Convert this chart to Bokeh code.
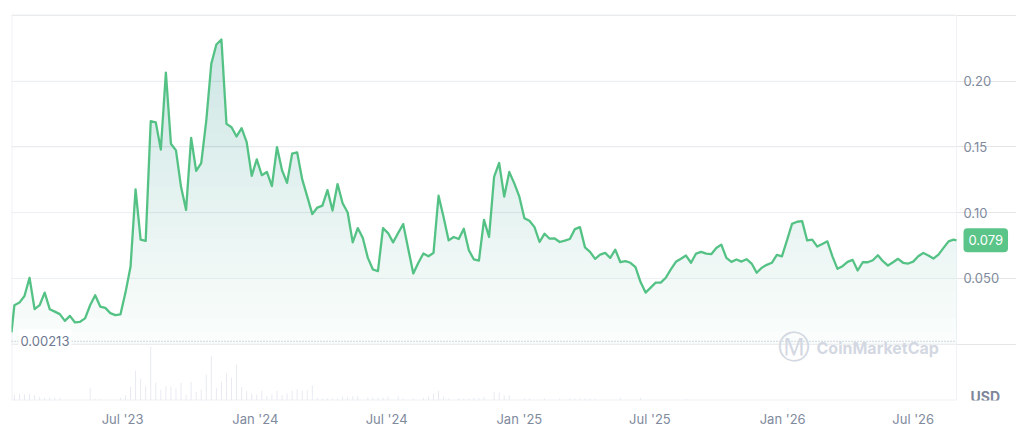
import numpy as np
import pandas as pd
from bokeh.plotting import figure
from bokeh.models import (Range1d, FixedTicker, DatetimeTickFormatter, Label, ColumnDataSource)
from bokeh.core.properties import value
from bokeh.embed import file_html
from bokeh.resources import INLINE

# ---------------- data ----------------
first_date = "2023-01-28"
first_price = 0.0090
weekly_start = "2023-02-01"
weekly_prices = [
    0.0296, 0.0316, 0.0366, 0.0505, 0.0266, 0.0296, 0.0392, 0.0266, 0.0247, 0.0228,
    0.0177, 0.0215, 0.0165, 0.0170, 0.0196, 0.0296, 0.0372, 0.0286, 0.0276, 0.0236,
    0.0221, 0.0226, 0.0392, 0.0588, 0.1177, 0.0795, 0.0785, 0.1696, 0.1688, 0.1480,
    0.2066, 0.1525, 0.1474,
    0.1197, 0.1021, 0.1570, 0.1318, 0.1378, 0.1701, 0.2134, 0.2280, 0.2318, 0.1676,
    0.1650, 0.1580, 0.1643, 0.1537, 0.1280, 0.1406, 0.1285, 0.1310, 0.1202, 0.1499,
    0.1323, 0.1227, 0.1449, 0.1459, 0.1253, 0.1122, 0.0989, 0.1039, 0.1054, 0.1172,
    0.1016, 0.1218,
    0.1072, 0.1001, 0.0774, 0.0883, 0.0807, 0.0656, 0.0568, 0.0555, 0.0883, 0.0845,
    0.0774, 0.0845, 0.0913, 0.0724, 0.0538, 0.0619, 0.0689, 0.0668, 0.0694, 0.1129,
    0.0966, 0.0789, 0.0815, 0.0800, 0.0878, 0.0714, 0.0644, 0.0636, 0.0946, 0.0815,
    0.1273, 0.1378,
    0.1122, 0.1310, 0.1223, 0.1122, 0.0958, 0.0938, 0.0890, 0.0777, 0.0840, 0.0802,
    0.0804, 0.0777, 0.0787, 0.0800, 0.0875, 0.0890, 0.0736, 0.0702, 0.0649, 0.0681,
    0.0694, 0.0656, 0.0719, 0.0623, 0.0631, 0.0619, 0.0585, 0.0472, 0.0392, 0.0430,
    0.0468,
    0.0468, 0.0505, 0.0568, 0.0626, 0.0649, 0.0674, 0.0619, 0.0689, 0.0702, 0.0689,
    0.0684, 0.0732, 0.0757, 0.0656, 0.0626, 0.0644, 0.0628, 0.0646, 0.0613, 0.0543,
    0.0581, 0.0603, 0.0619, 0.0679, 0.0668, 0.0789, 0.0915, 0.0931, 0.0936, 0.0789,
    0.0795, 0.0742,
    0.0762, 0.0782, 0.0668, 0.0573, 0.0593, 0.0626, 0.0641, 0.0560, 0.0623, 0.0623,
    0.0638, 0.0676, 0.0631, 0.0598, 0.0623, 0.0649, 0.0619, 0.0613, 0.0628, 0.0668,
    0.0694, 0.0674, 0.0651, 0.0681, 0.0732, 0.0782, 0.0795,
]
last_date = "2026-08-30"
last_price = 0.079

# weekly traded volume (relative units)
weekly_volume = (
    [6, 7, 6.3, 7, 5.3, 3.7, 3, 3, 3, 2.7]
    + [0, 0, 0, 0, 0, 12.7, 1.7, 1.3, 0, 0]
    + [0, 2.7, 5.3, 13.7, 29.7, 22, 14.3, 53.7, 17.7, 11]
    + [14.3, 13.7, 12, 17.7, 6, 18.7, 8.7, 11, 26, 44.7]
    + [12.7, 18.7, 27, 22.7, 36, 13.7, 9.3, 7, 6, 9.7]
    + [4.3, 6, 9.7, 5.3, 7, 9.7, 11, 9.7, 10.3, 15.3]
    + [2.7, 2, 2, 2, 2, 3.7, 3.7, 4.3, 4.3, 0]
    + [3, 3, 3, 3, 3.7, 0, 4.3, 2, 0, 2]
    + [0, 2.7, 4.3, 7, 9.7, 3.7, 2, 0, 2, 2]
    + [2, 2.7, 2.7, 3.7, 0, 8.7, 8, 5.3, 5.3, 0]
    + [0, 2, 2, 0, 0, 2, 0, 0, 2, 0]
    + [2, 2, 2, 2, 2, 2, 0, 0, 0, 0]
    + [2.7, 0, 0, 0, 2.7, 0, 0, 0, 0, 0]
    + [0, 0, 0, 1.5, 0, 0, 0, 0, 0, 0]
    + [0] * 47
)

atl_price = 0.00213
x_tick_dates = ["2023-07-01", "2024-01-01", "2024-07-01", "2025-01-01",
                "2025-07-01", "2026-01-01", "2026-07-01"]
y_ticks = [0.05, 0.10, 0.15, 0.20]
y_tick_labels = ["0.050", "0.10", "0.15", "0.20"]
currency = "USD"
brand = "CoinMarketCap"

# ---------------- styling ----------------
GREEN = "#55c285"
GRAY = "#808a9d"
GRID = "#eff2f5"
FONT = "Inter"

DATA_W = 945      # px of the plotting area used by the chart
SIDE_W = 60       # px of the label column to the right of it
Y_LO, Y_HI = -0.0429, 0.2508

weekly_dates = pd.date_range(weekly_start, periods=len(weekly_prices), freq="7D")
dates = pd.DatetimeIndex([pd.Timestamp(first_date)]).append(weekly_dates).append(
    pd.DatetimeIndex([pd.Timestamp(last_date)]))
prices = np.array([first_price] + weekly_prices + [last_price])

t0 = pd.Timestamp(first_date)
t1 = pd.Timestamp(last_date)
t_side = t0 + (t1 - t0) * ((DATA_W + SIDE_W) / DATA_W)
x_start, x_end = t0.to_pydatetime(), t1.to_pydatetime()

p = figure(width=11 + DATA_W + SIDE_W, height=429, x_axis_type="datetime",
           x_range=Range1d(x_start, t_side.to_pydatetime()), y_range=Range1d(Y_LO, Y_HI),
           output_backend="svg", toolbar_location=None, y_axis_location=None,
           min_border_left=11, min_border_top=14, min_border_right=0,
           min_border_bottom=27, background_fill_color="white",
           border_fill_color="white")
p.outline_line_color = None

# grid lines and frame of the chart area
grid_levels = [0.0] + y_ticks
p.segment(x0=[x_start] * len(grid_levels), y0=grid_levels,
          x1=[x_end] * len(grid_levels), y1=grid_levels,
          line_color=GRID, line_width=1)
p.segment(x0=[x_start, x_start, x_start, x_end], y0=[Y_LO, Y_HI, Y_LO, Y_LO],
          x1=[x_end, x_end, x_start, x_end], y1=[Y_LO, Y_HI, Y_HI, Y_HI],
          line_color=GRID, line_width=[2, 2, 2, 1])

# volume on its own range at the bottom of the frame
vmax = max(weekly_volume)
p.extra_y_ranges = {"vol": Range1d(0, vmax * 388 / 54)}
vol_src = ColumnDataSource(dict(x=weekly_dates, top=weekly_volume))
p.vbar(x="x", top="top", bottom=0, width=1.3 * 86400000, source=vol_src,
       y_range_name="vol", fill_color="#e6e9f1", line_color=None)

# gradient-like area fill: stacked translucent layers
p.varea(x=dates, y1=np.zeros(len(prices)), y2=prices, fill_color=GREEN, fill_alpha=0.03)
for lvl in np.arange(0.01, 0.25, 0.01):
    p.varea(x=dates, y1=np.full(len(prices), lvl), y2=np.maximum(prices, lvl),
            fill_color=GREEN, fill_alpha=0.013)

p.line(x=dates, y=prices, line_color=GREEN, line_width=2.3, line_join="round")

# all-time-low dotted line and label
p.segment(x0=[x_start], y0=[atl_price], x1=[x_end], y1=[atl_price],
          line_color="#aab2c2", line_dash="1 2", line_width=1)
p.add_layout(Label(x=x_start, y=atl_price, x_offset=7, text=f"{atl_price:.5f}",
                   text_baseline="middle", text_align="left", text_font=FONT,
                   text_font_size="13px", text_color="#6f7890",
                   background_fill_color="white", background_fill_alpha=1.0,
                   padding=(2, 7)))

# price axis labels (right column)
p.text(x=[x_end] * len(y_ticks), y=y_ticks, text=y_tick_labels, x_offset=7,
       text_baseline="middle", text_align="left", text_font=value(FONT),
       text_font_size="13px", text_color=GRAY)

# current price badge
p.add_layout(Label(x=x_end, y=last_price, x_offset=7, text=f"{last_price:.3f}",
                   text_baseline="middle", text_align="left", text_font=FONT,
                   text_font_size="13px", text_color="white",
                   background_fill_color="#5bc488", background_fill_alpha=1.0,
                   border_radius=4, padding=(5, 7)))

# currency
p.add_layout(Label(x=x_end, y=Y_LO, x_offset=14, y_offset=4, text=currency,
                   text_baseline="middle", text_align="left", text_font=FONT,
                   text_font_size="14px", text_font_style="bold", text_color="#7d869a"))

# watermark
p.add_layout(Label(x=x_end, y=0.0, x_offset=-163, y_offset=-3, text="\u24c2",
                   text_baseline="middle", text_align="center", text_font="DejaVu Sans",
                   text_font_size="32px", text_color="#d3d8e2"))
p.add_layout(Label(x=x_end, y=0.0, x_offset=-140, y_offset=-4, text=brand,
                   text_baseline="middle", text_align="left", text_font=FONT,
                   text_font_size="16px", text_font_style="bold", text_color="#d3d8e2"))

# time axis
xt = [pd.Timestamp(d).value // 10**6 for d in x_tick_dates]
p.xaxis.ticker = FixedTicker(ticks=xt)
fmt = "%b '%y"
p.xaxis.formatter = DatetimeTickFormatter(days=fmt, months=fmt, years=fmt, context=None)
p.xaxis.axis_line_color = None
p.xaxis.major_tick_line_color = None
p.xaxis.minor_tick_line_color = None
p.xaxis.major_tick_out = 0
p.xaxis.major_label_standoff = 10
p.xaxis.major_label_text_font = FONT
p.xaxis.major_label_text_font_size = "13px"
p.xaxis.major_label_text_color = GRAY

p.xgrid.visible = False

open("out.html", "w").write(file_html(p, INLINE))
